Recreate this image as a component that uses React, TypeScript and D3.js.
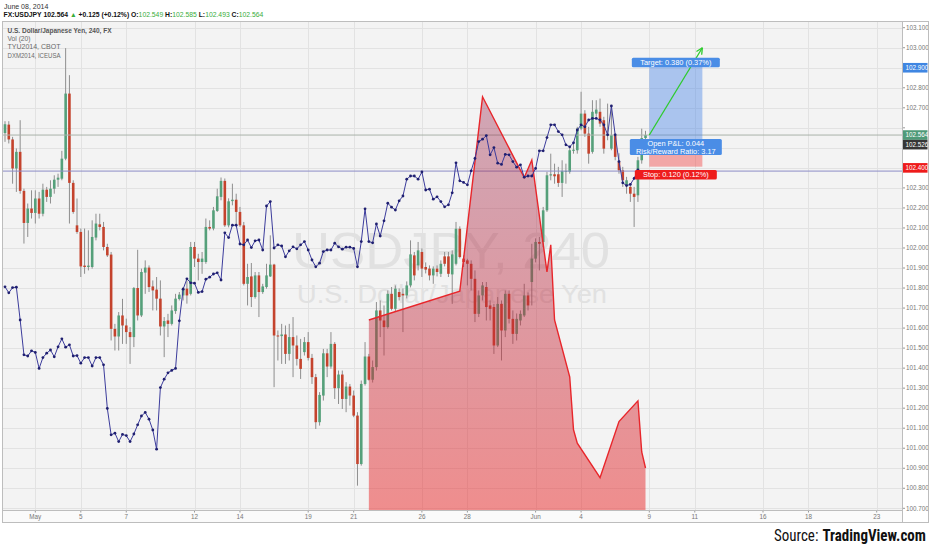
import { useEffect, useRef } from "react";
import * as d3 from "d3";

// USD/JPY 240-minute candles: [open, high, low, close]
const candles: [number, number, number, number][] = [
  [102.574, 102.633, 102.53, 102.618], [102.616, 102.633, 102.522, 102.542], [102.542, 102.555, 102.321, 102.397],
  [102.397, 102.497, 102.28, 102.48], [102.48, 102.638, 102.271, 102.285], [102.285, 102.296, 102.022, 102.125],
  [102.125, 102.222, 102.055, 102.197], [102.197, 102.288, 102.147, 102.175], [102.175, 102.288, 102.122, 102.247],
  [102.247, 102.28, 102.147, 102.171], [102.171, 102.321, 102.158, 102.291], [102.291, 102.305, 102.23, 102.255],
  [102.255, 102.338, 102.222, 102.296], [102.296, 102.363, 102.271, 102.341], [102.341, 102.371, 102.305, 102.351],
  [102.346, 102.485, 102.338, 102.446], [102.446, 102.998, 102.438, 102.771], [102.771, 102.863, 102.122, 102.325],
  [102.325, 102.338, 102.171, 102.18], [102.113, 102.247, 102.071, 102.08], [102.08, 102.097, 101.855, 101.908],
  [101.912, 102.097, 101.871, 101.905], [101.905, 102.088, 101.888, 101.912], [101.905, 102.138, 101.897, 102.055],
  [102.052, 102.171, 102.038, 102.122], [102.118, 102.171, 102.088, 102.105], [102.105, 102.13, 101.988, 102.005],
  [102.005, 102.021, 101.955, 101.963], [101.967, 101.98, 101.538, 101.596], [101.596, 101.621, 101.488, 101.558],
  [101.558, 101.68, 101.488, 101.663], [101.663, 101.746, 101.521, 101.613], [101.613, 101.647, 101.521, 101.58],
  [101.58, 101.605, 101.421, 101.555], [101.555, 101.805, 101.505, 101.8], [101.8, 101.991, 101.638, 101.663],
  [101.663, 101.897, 101.655, 101.88], [101.877, 101.938, 101.771, 101.902], [101.902, 101.913, 101.78, 101.805],
  [101.808, 101.838, 101.688, 101.788], [101.792, 101.855, 101.688, 101.747], [101.747, 101.838, 101.563, 101.608],
  [101.608, 101.655, 101.455, 101.635], [101.638, 101.671, 101.555, 101.621], [101.621, 101.713, 101.613, 101.688],
  [101.685, 101.771, 101.671, 101.747], [101.745, 101.78, 101.738, 101.767], [101.763, 101.805, 101.738, 101.797],
  [101.797, 101.838, 101.722, 101.763], [101.771, 102.03, 101.763, 102.005], [102.005, 102.03, 101.905, 101.947],
  [101.947, 101.971, 101.838, 101.93], [101.93, 101.98, 101.871, 101.947], [101.93, 102.147, 101.921, 102.105],
  [102.105, 102.138, 102.088, 102.097], [102.097, 102.205, 102.088, 102.188], [102.185, 102.296, 102.18, 102.258],
  [102.255, 102.352, 102.238, 102.335], [102.335, 102.347, 102.105, 102.113], [102.113, 102.248, 102.103, 102.233],
  [102.234, 102.321, 102.213, 102.241], [102.241, 102.271, 102.113, 102.18], [102.18, 102.205, 102.105, 102.113],
  [102.113, 102.13, 101.813, 101.821], [101.821, 101.921, 101.713, 101.855], [101.858, 101.925, 101.705, 101.755],
  [101.755, 101.88, 101.747, 101.863], [101.863, 101.88, 101.655, 101.78], [101.78, 101.821, 101.771, 101.808],
  [101.805, 101.921, 101.797, 101.863], [101.858, 102.063, 101.855, 101.917], [101.917, 101.921, 101.305, 101.563],
  [101.563, 101.588, 101.438, 101.558], [101.56, 101.621, 101.421, 101.568], [101.568, 101.613, 101.421, 101.471],
  [101.471, 101.621, 101.438, 101.555], [101.555, 101.655, 101.355, 101.513], [101.513, 101.563, 101.413, 101.446],
  [101.446, 101.546, 101.346, 101.396], [101.48, 101.555, 101.463, 101.53], [101.53, 101.58, 101.438, 101.451],
  [101.451, 101.471, 101.321, 101.355], [101.355, 101.371, 101.096, 101.13], [101.13, 101.28, 101.113, 101.266],
  [101.263, 101.496, 101.238, 101.474], [101.474, 101.496, 101.355, 101.408], [101.408, 101.58, 101.397, 101.521],
  [101.521, 101.53, 101.246, 101.3], [101.3, 101.388, 101.221, 101.368], [101.368, 101.388, 101.196, 101.246],
  [101.246, 101.33, 101.18, 101.308], [101.308, 101.321, 101.213, 101.263], [101.263, 101.288, 101.155, 101.163],
  [101.163, 101.18, 100.813, 100.921], [100.921, 101.338, 100.913, 101.321], [101.321, 101.53, 101.313, 101.458],
  [101.458, 101.471, 101.338, 101.342], [101.342, 101.438, 101.328, 101.405], [101.405, 101.73, 101.388, 101.688],
  [101.688, 101.738, 101.555, 101.638], [101.638, 101.713, 101.463, 101.605], [101.605, 101.788, 101.597, 101.771],
  [101.771, 101.805, 101.688, 101.696], [101.696, 101.813, 101.68, 101.797], [101.78, 101.798, 101.738, 101.755],
  [101.771, 101.798, 101.58, 101.763], [101.763, 101.833, 101.748, 101.813], [101.813, 102.038, 101.803, 101.968],
  [101.963, 101.98, 101.838, 101.863], [101.913, 102.03, 101.888, 101.988], [101.98, 101.998, 101.855, 101.897],
  [101.905, 101.928, 101.873, 101.892], [101.897, 101.913, 101.838, 101.863], [101.863, 101.908, 101.821, 101.897],
  [101.897, 101.913, 101.858, 101.88], [101.871, 101.938, 101.855, 101.921], [101.958, 101.98, 101.908, 101.921],
  [101.958, 101.98, 101.855, 101.871], [101.868, 101.988, 101.721, 101.968], [101.921, 102.13, 101.913, 102.096],
  [102.096, 102.108, 101.948, 101.955], [101.947, 101.963, 101.905, 101.93], [101.938, 101.946, 101.813, 101.921],
  [101.921, 101.938, 101.788, 101.846], [101.846, 101.888, 101.63, 101.671], [101.671, 101.788, 101.655, 101.763],
  [101.763, 101.83, 101.738, 101.813], [101.805, 101.83, 101.638, 101.705], [101.713, 101.738, 101.638, 101.696],
  [101.705, 101.721, 101.471, 101.513], [101.513, 101.755, 101.505, 101.721], [101.721, 101.738, 101.438, 101.588],
  [101.588, 101.788, 101.555, 101.771], [101.771, 101.788, 101.623, 101.646], [101.646, 101.688, 101.521, 101.571],
  [101.571, 101.673, 101.538, 101.646], [101.638, 101.688, 101.613, 101.671], [101.663, 101.821, 101.655, 101.763],
  [101.763, 101.778, 101.688, 101.713], [101.83, 102.021, 101.713, 101.947], [101.947, 102.048, 101.928, 102.03],
  [102.03, 102.055, 101.888, 102.021], [102.03, 102.205, 102.005, 102.188], [102.188, 102.38, 102.18, 102.363],
  [102.362, 102.471, 102.338, 102.368], [102.368, 102.421, 102.321, 102.358], [102.368, 102.405, 102.305, 102.325],
  [102.325, 102.438, 102.255, 102.385], [102.38, 102.421, 102.321, 102.385], [102.38, 102.505, 102.371, 102.488],
  [102.485, 102.521, 102.471, 102.491], [102.488, 102.605, 102.471, 102.596], [102.596, 102.78, 102.588, 102.671],
  [102.671, 102.688, 102.555, 102.571], [102.571, 102.605, 102.421, 102.471], [102.48, 102.738, 102.471, 102.68],
  [102.671, 102.738, 102.655, 102.691], [102.68, 102.746, 102.605, 102.621], [102.638, 102.655, 102.471, 102.496],
  [102.561, 102.721, 102.538, 102.568], [102.496, 102.705, 102.488, 102.563], [102.563, 102.571, 102.438, 102.455],
  [102.43, 102.473, 102.371, 102.388], [102.388, 102.405, 102.305, 102.338], [102.313, 102.355, 102.271, 102.338],
  [102.305, 102.321, 102.23, 102.271], [102.271, 102.305, 102.105, 102.255], [102.263, 102.455, 102.23, 102.438],
  [102.438, 102.596, 102.421, 102.549], [102.549, 102.585, 102.493, 102.564],
];

// TYU2014 (CBOT) closes, one per bar
const tyCloses = [
  125.533, 125.518, 125.531, 125.532, 125.45, 125.363, 125.36, 125.373, 125.369, 125.329,
  125.356, 125.367, 125.375, 125.358, 125.383, 125.403, 125.382, 125.388, 125.36, 125.361,
  125.342, 125.356, 125.356, 125.335, 125.356, 125.356, 125.338, 125.229, 125.163, 125.167,
  125.146, 125.164, 125.161, 125.146, 125.165, 125.188, 125.21, 125.219, 125.202, 125.175,
  125.127, 125.281, 125.302, 125.318, 125.324, 125.329, 125.448, 125.527, 125.553, 125.543,
  125.542, 125.519, 125.521, 125.552, 125.557, 125.565, 125.568, 125.55, 125.668, 125.656,
  125.687, 125.687, 125.64, 125.638, 125.65, 125.631, 125.648, 125.65, 125.625, 125.735,
  125.746, 125.63, 125.638, 125.635, 125.608, 125.623, 125.633, 125.628, 125.638, 125.646,
  125.625, 125.6, 125.583, 125.592, 125.621, 125.625, 125.625, 125.642, 125.633, 125.627,
  125.632, 125.632, 125.629, 125.583, 125.646, 125.728, 125.646, 125.643, 125.69, 125.66,
  125.698, 125.742, 125.732, 125.725, 125.748, 125.76, 125.802, 125.81, 125.81, 125.802,
  125.82, 125.775, 125.777, 125.752, 125.758, 125.746, 125.733, 125.738, 125.768, 125.843,
  125.798, 125.794, 125.788, 125.823, 125.854, 125.896, 125.902, 125.911, 125.863, 125.881,
  125.842, 125.839, 125.864, 125.863, 125.846, 125.832, 125.838, 125.807, 125.81, 125.81,
  125.829, 125.873, 125.873, 125.906, 125.938, 125.938, 125.921, 125.913, 125.888, 125.883,
  125.893, 125.925, 125.938, 125.933, 125.95, 125.954, 125.954, 125.95, 125.938, 125.913,
  125.985, 125.913, 125.846, 125.793, 125.786, 125.789, 125.804, 125.825, 125.821,
];

// DXM2014 (ICEUSA) sparse closes and the bar each belongs to
const dxmBars = [96, 120, 126, 137, 139, 143, 144, 145, 149, 150, 151, 157, 162, 167, 168, 169];
const dxmCloses = [
  80.6, 80.636, 80.879, 80.778, 80.8, 80.66, 80.694, 80.6, 80.529, 80.463, 80.446, 80.403,
  80.473, 80.499, 80.435, 80.415,
];

const dayTickBars = [8, 20, 32, 50, 62, 80, 92, 110, 122, 140, 152, 170, 182, 200, 212, 230];
const dayTickLabels = ["May", "5", "7", "12", "14", "19", "21", "26", "28", "Jun", "4", "9", "11", "16", "18", "23"];

const priceTicks = [
  100.7, 100.8, 100.9, 101.0, 101.1, 101.2, 101.3, 101.4, 101.5, 101.6, 101.7, 101.8, 101.9,
  102.0, 102.1, 102.2, 102.3, 102.4, 102.5, 102.6, 102.7, 102.8, 102.9, 103.0, 103.1,
];

const lastClose = 102.564;
const entryPrice = 102.526;
const targetPrice = 102.906;
const stopPrice = 102.406;
const hLinePrice = 102.384;
const arrowEndPrice = 103.0;
const positionBars = [170, 184];
const axisMarkers = [102.9, 102.564, 102.526, 102.4];

export default function App() {
  const svgRef = useRef<SVGSVGElement>(null);

  useEffect(() => {
    if (!svgRef.current) return;
    const svg = d3.select(svgRef.current);
    svg.selectAll("*").remove();

    const font = "'Liberation Sans', Arial, sans-serif";
    const left = 3, right = 902, top = 22, bottom = 510, axisRight = 928, frameBottom = 522;

    const x = d3.scaleLinear().domain([0, 236]).range([5, 5 + 236 * 3.79]);
    const y = d3.scaleLinear().domain([100.7, 103.1]).range([508.3, 27.7]);
    // overlay series on their own scales
    const yTy = d3.scaleLinear().domain([125, 126.25]).range([500, 0]);
    const yDx = d3.scaleLinear().domain([80.4, 81]).range([480, 0]);

    const defs = svg.append("defs");
    defs.append("clipPath").attr("id", "plotClip")
      .append("rect").attr("x", left).attr("y", top).attr("width", right - left).attr("height", bottom - top);
    const grad = defs.append("linearGradient").attr("id", "dxmFill")
      .attr("gradientUnits", "userSpaceOnUse")
      .attr("x1", 0).attr("x2", 0)
      .attr("y1", yDx(d3.max(dxmCloses) as number)).attr("y2", bottom);
    grad.append("stop").attr("offset", 0).attr("stop-color", "rgb(150,40,80)").attr("stop-opacity", 0.38);
    grad.append("stop").attr("offset", 1).attr("stop-color", "rgb(235,40,40)").attr("stop-opacity", 0.5);

    svg.append("rect").attr("width", 932).attr("height", 550).attr("fill", "#fff");
    svg.append("rect").attr("x", left).attr("y", top).attr("width", right - left)
      .attr("height", bottom - top).attr("fill", "#f3f3f3");

    const plot = svg.append("g").attr("clip-path", "url(#plotClip)");

    // grid
    plot.selectAll(".hgrid").data(priceTicks).join("line")
      .attr("x1", left).attr("x2", right)
      .attr("y1", (d) => Math.round(y(d)) + 0.5).attr("y2", (d) => Math.round(y(d)) + 0.5)
      .attr("stroke", "#e2e2e2");
    plot.selectAll(".vgrid").data(dayTickBars).join("line")
      .attr("x1", (d) => Math.round(x(d)) + 0.5).attr("x2", (d) => Math.round(x(d)) + 0.5)
      .attr("y1", top).attr("y2", bottom)
      .attr("stroke", "#e2e2e2");

    // watermark
    plot.append("text").attr("x", 451).attr("y", 268).attr("text-anchor", "middle")
      .attr("font-family", font).attr("font-size", 50).attr("fill", "#e1e1e1")
      .attr("textLength", 318).attr("lengthAdjust", "spacingAndGlyphs")
      .text("USDJPY, 240");
    plot.append("text").attr("x", 452).attr("y", 303).attr("text-anchor", "middle")
      .attr("font-family", font).attr("font-size", 25).attr("fill", "#e1e1e1")
      .attr("textLength", 310).attr("lengthAdjust", "spacingAndGlyphs")
      .text("U.S. Dollar/Japanese Yen");

    // candles
    const cg = plot.append("g");
    cg.selectAll(".wick").data(candles).join("line")
      .attr("x1", (_, i) => x(i)).attr("x2", (_, i) => x(i))
      .attr("y1", (d) => y(d[1])).attr("y2", (d) => y(d[2]))
      .attr("stroke", "#8e8e8e").attr("stroke-width", 1);
    cg.selectAll(".body").data(candles).join("rect")
      .attr("x", (_, i) => x(i) - 1.3).attr("width", 2.6)
      .attr("y", (d) => y(Math.max(d[0], d[3])))
      .attr("height", (d) => Math.max(1, Math.abs(y(d[0]) - y(d[3]))))
      .attr("fill", (d) => (d[3] >= d[0] ? "#55a07a" : "#c4432d"));

    // price lines
    plot.append("line").attr("x1", left).attr("x2", right)
      .attr("y1", y(lastClose)).attr("y2", y(lastClose))
      .attr("stroke", "#a9b2aa").attr("stroke-width", 1);
    plot.append("line").attr("x1", left).attr("x2", right)
      .attr("y1", y(hLinePrice)).attr("y2", y(hLinePrice))
      .attr("stroke", "#8c8cc6").attr("stroke-width", 1);

    // DXM area
    const area = d3.area<number>()
      .x((_, i) => x(dxmBars[i]))
      .y0(bottom)
      .y1((d) => yDx(d));
    const dxLine = d3.line<number>()
      .x((_, i) => x(dxmBars[i]))
      .y((d) => yDx(d));
    plot.append("path").datum(dxmCloses).attr("d", area).attr("fill", "url(#dxmFill)");
    plot.append("path").datum(dxmCloses).attr("d", dxLine)
      .attr("fill", "none").attr("stroke", "#e8262b").attr("stroke-width", 1.4);

    // TY line with dots
    const tyLine = d3.line<number>().x((_, i) => x(i)).y((d) => yTy(d));
    plot.append("path").datum(tyCloses).attr("d", tyLine)
      .attr("fill", "none").attr("stroke", "#3c3c9c").attr("stroke-width", 1);
    plot.selectAll(".tydot").data(tyCloses).join("circle")
      .attr("cx", (_, i) => x(i)).attr("cy", (d) => yTy(d)).attr("r", 1.4)
      .attr("fill", "#1f1f70");

    // long position tool
    const px0 = x(positionBars[0]);
    const px1 = x(positionBars[1]);
    const pmid = (px0 + px1) / 2;
    plot.append("rect").attr("x", px0).attr("width", px1 - px0)
      .attr("y", y(targetPrice)).attr("height", y(entryPrice) - y(targetPrice))
      .attr("fill", "rgba(70,130,230,0.42)");
    plot.append("rect").attr("x", px0).attr("width", px1 - px0)
      .attr("y", y(entryPrice)).attr("height", y(stopPrice) - y(entryPrice))
      .attr("fill", "rgba(240,60,60,0.42)");

    const ax0 = px0, ay0 = y(lastClose), ax1 = px1, ay1 = y(arrowEndPrice);
    plot.append("line").attr("x1", ax0).attr("y1", ay0).attr("x2", ax1).attr("y2", ay1)
      .attr("stroke", "#2ecb2e").attr("stroke-width", 1.3);
    const ang = Math.atan2(ay1 - ay0, ax1 - ax0);
    [0.45, -0.45].forEach((da) => {
      plot.append("line").attr("x1", ax1).attr("y1", ay1)
        .attr("x2", ax1 - 7 * Math.cos(ang + da)).attr("y2", ay1 - 7 * Math.sin(ang + da))
        .attr("stroke", "#2ecb2e").attr("stroke-width", 1.3);
    });

    const label = (cx: number, yTop: number, w: number, h: number, fill: string, lines: string[]) => {
      plot.append("rect").attr("x", cx - w / 2).attr("y", yTop).attr("width", w).attr("height", h)
        .attr("rx", 1.5).attr("fill", fill);
      lines.forEach((t, k) => {
        plot.append("text").attr("x", cx).attr("y", yTop + 7.4 + k * 7.6)
          .attr("text-anchor", "middle").attr("font-family", font).attr("font-size", 7.4)
          .attr("fill", "#fff").text(t);
      });
    };
    label(pmid, y(targetPrice) - 8.8, 88, 9.6, "#4a8de6", ["Target: 0.380 (0.37%)"]);
    label(pmid, y(entryPrice) - 3.6, 92, 16, "#4a8de6", ["Open P&L: 0.044", "Risk/Reward Ratio: 3.17"]);
    label(pmid, y(stopPrice) + 3.3, 82, 9.6, "#ee1c1c", ["Stop: 0.120 (0.12%)"]);

    // legend
    const legend = [
      { t: "U.S. Dollar/Japanese Yen, 240, FX", w: 104, bold: true },
      { t: "Vol (20)", w: 23, bold: false },
      { t: "TYU2014, CBOT", w: 53, bold: false },
      { t: "DXM2014, ICEUSA", w: 53, bold: false },
    ];
    legend.forEach((l, k) => {
      svg.append("text").attr("x", 7.5).attr("y", 32.5 + k * 8.4)
        .attr("font-family", font).attr("font-size", 7)
        .attr("font-weight", l.bold ? "bold" : "normal")
        .attr("fill", l.bold ? "#555" : "#6a6a6a")
        .attr("textLength", l.w).attr("lengthAdjust", "spacingAndGlyphs")
        .text(l.t);
    });

    // right price axis (tick labels hidden where a marker sits, as in the app)
    svg.append("rect").attr("x", right).attr("y", top).attr("width", axisRight - right)
      .attr("height", frameBottom - top).attr("fill", "#fff");
    const visibleTicks = priceTicks.filter((t) => axisMarkers.every((m) => Math.abs(y(t) - y(m)) > 9));
    const ya = svg.append("g");
    ya.selectAll("line").data(priceTicks).join("line")
      .attr("x1", right).attr("x2", right + 3)
      .attr("y1", (d) => y(d)).attr("y2", (d) => y(d))
      .attr("stroke", "#999");
    ya.selectAll("text").data(visibleTicks).join("text")
      .attr("x", right + 4).attr("y", (d) => y(d) + 2.2)
      .attr("font-family", font).attr("font-size", 6.3).attr("fill", "#777")
      .text((d) => d3.format(".3f")(d));

    const markerColors = ["#3f86e2", "#4f9a78", "#363636", "#ee1b1b"];
    let prevBottom = -Infinity;
    axisMarkers.forEach((v, k) => {
      let t = y(v) - 4.8;
      if (t < prevBottom) t = prevBottom;
      prevBottom = t + 9.6;
      svg.append("rect").attr("x", right).attr("y", t).attr("width", axisRight - right - 0.5)
        .attr("height", 9.6).attr("fill", markerColors[k]);
      svg.append("text").attr("x", right + 3.5).attr("y", t + 7)
        .attr("font-family", font).attr("font-size", 6.3).attr("fill", "#fff")
        .text(d3.format(".3f")(v));
    });

    // time axis
    svg.append("rect").attr("x", left).attr("y", bottom).attr("width", right - left)
      .attr("height", frameBottom - bottom).attr("fill", "#fafafa");
    const xa = svg.append("g");
    xa.selectAll("line").data(dayTickBars).join("line")
      .attr("x1", (d) => x(d)).attr("x2", (d) => x(d))
      .attr("y1", bottom).attr("y2", bottom + 2.5).attr("stroke", "#999");
    xa.selectAll("text").data(dayTickBars).join("text")
      .attr("x", (d) => x(d)).attr("y", 518.8).attr("text-anchor", "middle")
      .attr("font-family", font).attr("font-size", 6.3).attr("fill", "#777")
      .text((_, i) => dayTickLabels[i]);

    // frame
    svg.append("line").attr("x1", left).attr("x2", right).attr("y1", bottom + 0.5).attr("y2", bottom + 0.5)
      .attr("stroke", "#bdbdbd");
    svg.append("line").attr("x1", right + 0.5).attr("x2", right + 0.5).attr("y1", top).attr("y2", frameBottom)
      .attr("stroke", "#bdbdbd");
    svg.append("rect").attr("x", left - 0.5).attr("y", top - 0.5)
      .attr("width", axisRight - left + 1).attr("height", frameBottom - top + 1)
      .attr("fill", "none").attr("stroke", "#bdbdbd");

    // header
    svg.append("text").attr("x", 4).attr("y", 8.5)
      .attr("font-family", font).attr("font-size", 7).attr("fill", "#333")
      .text("June 08, 2014");
    const hdr = svg.append("text").attr("x", 3.5).attr("y", 17.3)
      .attr("font-family", font).attr("font-size", 6.8);
    const green = "#3aad3a";
    const parts: [string, string, boolean][] = [
      ["FX:USDJPY ", "#111", true],
      ["102.564 ", "#111", true],
      ["\u25B2", green, false],
      [" +0.125 (+0.12%) ", "#111", true],
      ["O:", "#111", true], ["102.549", green, false],
      [" H:", "#111", true], ["102.585", green, false],
      [" L:", "#111", true], ["102.493", green, false],
      [" C:", "#111", true], ["102.564", green, false],
    ];
    parts.forEach(([t, c, b]) => {
      hdr.append("tspan").attr("fill", c).attr("font-weight", b ? "bold" : "normal").text(t);
    });

    // source: narrow look by scaling the group horizontally
    const srcFont = "'Liberation Sans Narrow', 'Roboto Condensed', 'Liberation Sans', sans-serif";
    const srcG = svg.append("g");
    const s1 = srcG.append("text").attr("x", 0).attr("y", 0)
      .attr("font-family", srcFont).attr("font-size", 17).attr("fill", "#111")
      .text("Source:");
    const w1 = (s1.node() as SVGTextElement).getComputedTextLength();
    const gap = 4.5;
    const s2 = srcG.append("text").attr("x", w1 + gap).attr("y", 0)
      .attr("font-family", srcFont).attr("font-size", 17).attr("font-weight", "bold").attr("fill", "#111")
      .text("TradingView.com");
    const w2 = (s2.node() as SVGTextElement).getComputedTextLength();
    const total = w1 + gap + w2;
    const k = 152 / total;
    srcG.attr("transform", `translate(${926 - total * k},541) scale(${k},1)`);
  }, []);

  return (
    <svg
      ref={svgRef}
      width={932}
      height={550}
      viewBox="0 0 932 550"
      style={{ position: "absolute", left: 0, top: 0 }}
    />
  );
}
